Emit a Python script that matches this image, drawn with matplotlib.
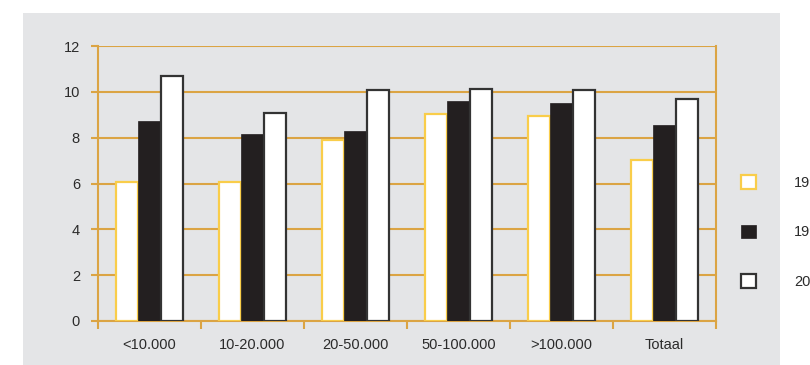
import matplotlib
matplotlib.use("Agg")
import matplotlib.pyplot as plt
from matplotlib.patches import Rectangle
import numpy as np

plt.rcParams['font.family'] = ['Liberation Sans', 'DejaVu Sans']

categories = ['<10.000', '10-20.000', '20-50.000', '50-100.000', '>100.000', 'Totaal']
series_names = ['1994', '1998', '2002']
values_a = [6.05, 6.05, 7.9, 9.03, 8.93, 7.04]
values_b = [8.74, 8.16, 8.29, 9.6, 9.51, 8.55]
values_c = [10.70, 9.07, 10.08, 10.13, 10.09, 9.67]
y_ticks = [0, 2, 4, 6, 8, 10, 12]

GOLD = '#dba444'
YELLOW = '#f9cd4a'
DARK = '#231f20'
PANEL = '#e4e5e7'
TEXT = '#2b2b2b'

fig = plt.figure(figsize=(8.1, 3.65), dpi=100)
fig.patch.set_facecolor('white')
# grey panel behind the chart
fig.add_artist(Rectangle((23 / 810, 0), (780 - 23) / 810, (365 - 13) / 365,
                         transform=fig.transFigure, facecolor=PANEL,
                         edgecolor='none', zorder=0))

ax = fig.add_axes([98 / 810, 1 - 321 / 365, (716 - 98) / 810, (321 - 46) / 365])
ax.set_facecolor('none')

x = np.arange(len(categories))
w = 0.214
bars_a = ax.bar(x - w, values_a, w, facecolor='white', edgecolor=YELLOW,
                linewidth=1.6, zorder=3, label=series_names[0])
bars_b = ax.bar(x, values_b, w, facecolor=DARK, edgecolor=DARK,
                linewidth=0.5, zorder=3, label=series_names[1])
bars_c = ax.bar(x + w, values_c, w, facecolor='white', edgecolor='#333333',
                linewidth=1.6, zorder=3, label=series_names[2])

ax.set_xlim(-0.5, len(categories) - 0.5)
ax.set_ylim(0, 12)
ax.set_yticks(y_ticks)
ax.set_yticklabels([str(t) for t in y_ticks])
ax.yaxis.grid(True, color=GOLD, linewidth=1.5, zorder=1)
ax.set_axisbelow(True)

# category labels centred, tick marks on the boundaries
ax.set_xticks(x)
ax.set_xticklabels(categories)
ax.set_xticks(np.arange(len(categories) + 1) - 0.5, minor=True)
ax.tick_params(axis='x', which='major', length=0, pad=12, labelsize=10.5, labelcolor=TEXT)
ax.tick_params(axis='x', which='minor', length=6, width=1.5, color=GOLD, direction='out')
ax.tick_params(axis='y', length=5, width=1.5, color=GOLD, pad=8, labelsize=10.5, labelcolor=TEXT)

for side in ['left', 'right', 'bottom']:
    ax.spines[side].set_color(GOLD)
    ax.spines[side].set_linewidth(1.5)
ax.spines['top'].set_visible(False)

leg = fig.legend(handles=[bars_a, bars_b, bars_c], labels=series_names,
                 loc='upper left', bbox_to_anchor=(741 / 810, 1 - 175 / 365),
                 frameon=False, fontsize=10.5, handlelength=1.05, handleheight=1.05,
                 labelspacing=2.4, handletextpad=2.6, borderpad=0, borderaxespad=0)
for t in leg.get_texts():
    t.set_color(TEXT)

fig.savefig('out.png', dpi=100)
